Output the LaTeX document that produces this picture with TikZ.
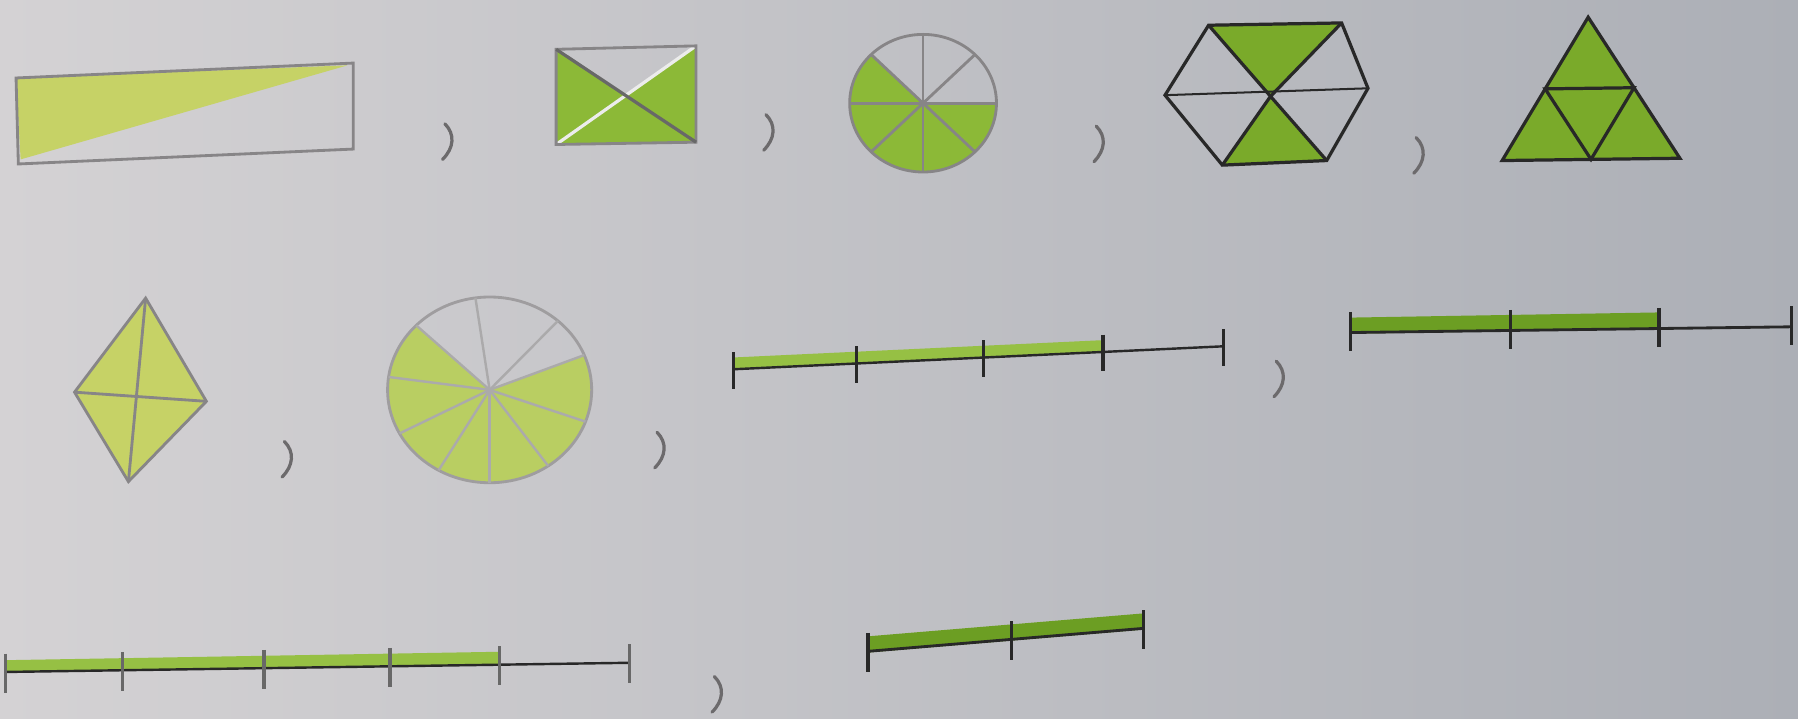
\documentclass[tikz,border=0pt]{standalone}
\usetikzlibrary{calc}
\definecolor{bgl}{RGB}{212,210,212}
\definecolor{bgr}{RGB}{172,175,182}
\definecolor{yg}{RGB}{198,210,102}
\definecolor{yg2}{RGB}{185,206,98}
\definecolor{mg}{RGB}{140,185,55}
\definecolor{dg}{RGB}{122,170,42}
\definecolor{barl}{RGB}{150,192,68}
\definecolor{bard}{RGB}{108,158,35}
\definecolor{penc}{RGB}{135,133,135}
\definecolor{inkc}{RGB}{40,40,40}
\begin{document}
\begin{tikzpicture}[x=0.01cm,y=-0.01cm,
  pencil/.style={draw=penc,line width=0.7pt},
  ink/.style={draw=inkc,line width=0.8pt},
  whiteline/.style={draw=white!85!gray,line width=0.8pt},
  commamark/.style={draw=penc!80!black,line width=0.8pt,line cap=round},
  tickmark/.style={draw=inkc,line width=0.8pt},
  barlight/.style={draw=barl,line width=3pt},
  bardark/.style={draw=bard,line width=4pt}]
\useasboundingbox (0,0) rectangle (1568,627);
\shade[left color=bgl,right color=bgr] (0,0) rectangle (1568,627);
% commas
\foreach \cx/\cy in {390/123,670/115,958/125,1237/135,250/400,575/392,1115/330,625/605}{
  \draw[commamark] (\cx-2,\cy-15) .. controls (\cx+7,\cy-6) and (\cx+6,\cy+6) .. (\cx-4,\cy+16);
}
% ---- rectangle 1/2
\coordinate (r1a) at (14,68); \coordinate (r1b) at (308,55);
\coordinate (r1c) at (308,130); \coordinate (r1d) at (16,143);
\fill[yg] (r1a) -- (303,57) -- (18,139) -- cycle;
\draw[pencil] (r1a)--(r1b)--(r1c)--(r1d)--cycle;
% ---- square 3/4
\coordinate (sqa) at (485,43); \coordinate (sqb) at (607,40);
\coordinate (sqc) at (607,124); \coordinate (sqd) at (485,126);
\coordinate (sqo) at (546,84);
\fill[mg] (sqa)--(sqo)--(sqb)--(sqc)--(sqd)--cycle;
\draw[whiteline] (sqd)--(sqb);
\draw[pencil] (sqa)--(sqb)--(sqc)--(sqd)--cycle;
\draw[ink,draw=inkc!70] (sqa)--(sqc);
% ---- circle 5/8
\coordinate (c1) at (805,90);
\fill[mg] (c1) -- ++({64*cos(-135)},{60*sin(-135)}) arc[start angle=-135,end angle=-360,x radius=64,y radius=60] -- cycle;
\draw[pencil] (c1) ellipse[x radius=64,y radius=60];
\foreach \a in {0,45,90,135}{
  \draw[pencil] ($(c1)+({64*cos(\a)},{60*sin(\a)})$) -- ($(c1)-({64*cos(\a)},{60*sin(\a)})$);
}
% ---- hexagon 2/6
\coordinate (h1) at (1054,22); \coordinate (h2) at (1170,20);
\coordinate (h3) at (1193,77); \coordinate (h4) at (1157,140);
\coordinate (h5) at (1066,144); \coordinate (h6) at (1016,83);
\coordinate (ho) at (1108,84);
\fill[dg] (h1)--(h2)--(ho)--cycle;
\fill[dg] (h5)--(h4)--(ho)--cycle;
\draw[ink] (h1)--(h2)--(h3)--(h4)--(h5)--(h6)--cycle;
\draw[ink,line width=0.5pt] (h6)--(h3);
\draw[ink] (h1)--(ho)--(h4) (h2)--(ho)--(h5);
% ---- triangle 4/4
\coordinate (ta) at (1385,15); \coordinate (tb) at (1310,140); \coordinate (tc) at (1465,138);
\fill[dg] (ta)--(tb)--(tc)--cycle;
\draw[ink] (ta)--(tb)--(tc)--cycle;
\draw[ink] ($(ta)!0.5!(tb)$)--($(ta)!0.5!(tc)$)--($(tb)!0.5!(tc)$)--cycle;
% ---- diamond 4/4
\coordinate (dt) at (127,260); \coordinate (dl) at (65,342);
\coordinate (dr) at (180,350); \coordinate (db) at (112,420);
\fill[yg] (dt)--(dr)--(db)--(dl)--cycle;
\draw[pencil] (dt)--(dr)--(db)--(dl)--cycle;
\draw[pencil] (dt)--(db) (dl)--(dr);
% ---- circle 7/10
\coordinate (c2) at (427,340);
\fill[yg2] (c2) -- ++({89*cos(-136)},{81*sin(-136)}) arc[start angle=-136,end angle=-382,x radius=89,y radius=81] -- cycle;
\draw[pencil,draw=penc!80] (c2) ellipse[x radius=89,y radius=81];
\foreach \a in {22,48,98,136,172,208,240,270,305,340}{
  \draw[pencil,draw=penc!70,line width=0.6pt] (c2) -- ($(c2)+({89*cos(-\a)},{81*sin(-\a)})$);
}
% ---- number line 3/4
\coordinate (n1s) at (640,322); \coordinate (n1e) at (1067,302);
\draw[barlight] ($(n1s)+(0,-5)$) -- ($(n1s)!0.754!(n1e)+(0,-5)$);
\draw[ink,line width=0.6pt] (n1s)--(n1e);
\foreach \f in {0,0.25,0.51,0.754,1}{
  \draw[tickmark] ($(n1s)!\f!(n1e)+(0,-15)$) -- ++(0,32);
}
% ---- number line 2/3
\coordinate (n2s) at (1178,290); \coordinate (n2e) at (1562,285);
\draw[bardark] ($(n2s)+(0,-6)$) -- ($(n2s)!0.70!(n2e)+(0,-7)$);
\draw[ink,line width=0.7pt] (n2s)--(n2e);
\foreach \f in {0,0.362,0.70,1}{
  \draw[tickmark] ($(n2s)!\f!(n2e)+(0,-18)$) -- ++(0,34);
}
% ---- number line 4/5
\coordinate (n3s) at (5,586); \coordinate (n3e) at (549,578);
\draw[barlight] ($(n3s)+(0,-5)$) -- ($(n3s)!0.79!(n3e)+(0,-6)$);
\draw[ink,line width=0.6pt] (n3s)--(n3e);
\foreach \f in {0,0.1875,0.414,0.616,0.792,1}{
  \draw[tickmark,draw=inkc!70] ($(n3s)!\f!(n3e)+(0,-16)$) -- ++(0,34);
}
% ---- number line 2/2
\coordinate (n4s) at (757,568); \coordinate (n4e) at (997,548);
\draw[bardark] ($(n4s)+(0,-6)$) -- ($(n4e)+(0,-6)$);
\draw[ink,line width=0.7pt] (n4s)--(n4e);
\foreach \f in {0,0.52,1}{
  \draw[tickmark] ($(n4s)!\f!(n4e)+(0,-16)$) -- ++(0,34);
}
\end{tikzpicture}
\end{document}
